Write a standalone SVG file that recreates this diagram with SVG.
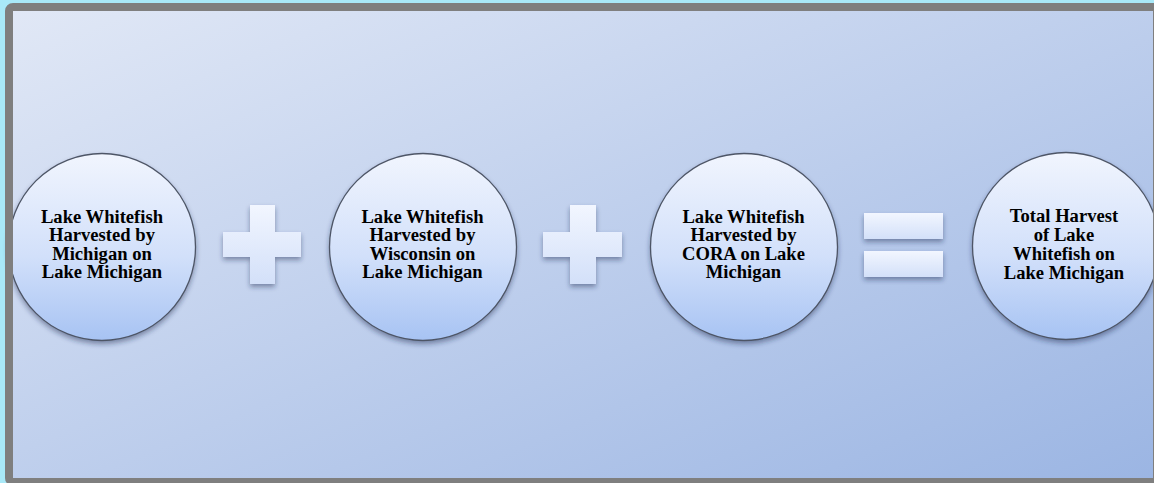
<svg xmlns="http://www.w3.org/2000/svg" width="1154" height="483" viewBox="0 0 1154 483">
<defs>
<linearGradient id="bg" x1="0" y1="0" x2="1" y2="1">
<stop offset="0" stop-color="#e1e8f6"/>
<stop offset="1" stop-color="#9bb5e3"/>
</linearGradient>
<linearGradient id="cg" x1="0" y1="0" x2="0" y2="1">
<stop offset="0" stop-color="#f1f5fe"/>
<stop offset="0.55" stop-color="#d2e0fa"/>
<stop offset="1" stop-color="#a7c3f3"/>
</linearGradient>
<linearGradient id="pg" x1="0" y1="0" x2="0" y2="1">
<stop offset="0" stop-color="#f2f6ff"/>
<stop offset="1" stop-color="#d3e0f9"/>
</linearGradient>
<filter id="sh" x="-20%" y="-20%" width="140%" height="150%">
<feGaussianBlur in="SourceAlpha" stdDeviation="2.5"/>
<feOffset dx="0" dy="3" result="b"/>
<feFlood flood-color="#1e2a50" flood-opacity="0.45"/>
<feComposite in2="b" operator="in"/>
<feMerge><feMergeNode/><feMergeNode in="SourceGraphic"/></feMerge>
</filter>
</defs>
<style>
.node circle{fill:url(#cg);stroke:#4d5566;stroke-width:1.3;filter:url(#sh)}
.node text{font-family:"Liberation Serif","Times New Roman",serif;font-weight:bold;font-size:18.6px;fill:#000;text-anchor:middle}
.op{fill:url(#pg);filter:url(#sh)}
</style>
<rect width="1154" height="483" fill="#a9e9f8"/>
<rect x="9" y="7" width="1148" height="475" rx="4" fill="url(#bg)"/>
<g id="op1"><path class="op" d="M250 205H275V232H301V257H275V284H250V257H223V232H250Z"/></g>
<g id="op2"><path class="op" d="M570 205H596V232H622V257H596V284H570V257H543V232H570Z"/></g>
<g id="op3"><rect class="op" x="864" y="213" width="79" height="26"/><rect class="op" x="864" y="251" width="79" height="26"/></g>
<g id="n1" class="node"><circle cx="102" cy="247" r="93.5"/>
<text x="102" y="222.7">Lake Whitefish</text><text x="102" y="241.2">Harvested by</text><text x="102" y="259.7">Michigan on</text><text x="102" y="278.3">Lake Michigan</text></g>
<g id="n2" class="node"><circle cx="423" cy="247" r="93.5"/>
<text x="422.5" y="222.7">Lake Whitefish</text><text x="422.5" y="241.2">Harvested by</text><text x="422.5" y="259.7">Wisconsin on</text><text x="422.5" y="278.3">Lake Michigan</text></g>
<g id="n3" class="node"><circle cx="744" cy="247" r="93.5"/>
<text x="743.5" y="222.5">Lake Whitefish</text><text x="743.5" y="241">Harvested by</text><text x="743.5" y="259.5">CORA on Lake</text><text x="743.5" y="278.3">Michigan</text></g>
<g id="n4" class="node"><circle cx="1066" cy="246" r="93.5"/>
<text x="1064" y="222.3">Total Harvest</text><text x="1064" y="240.8">of Lake</text><text x="1064" y="259.5">Whitefish on</text><text x="1064" y="278.5">Lake Michigan</text></g>
<g id="connectors"/>
<rect x="9" y="7" width="1148" height="475" rx="4" fill="none" stroke="#7f7f7f" stroke-width="8"/>
</svg>
